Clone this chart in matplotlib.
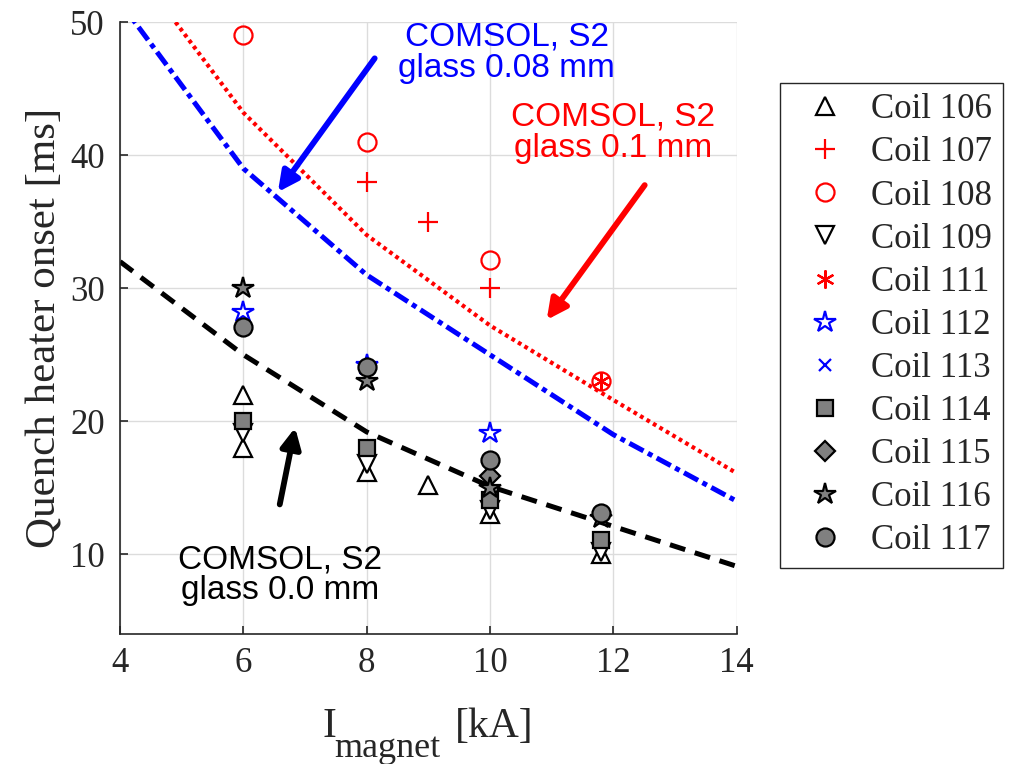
import matplotlib
matplotlib.use("Agg")
import matplotlib.pyplot as plt

# measured onset times per coil (x = magnet current kA, y = ms)
coil106_x = [6, 6, 8, 9, 10, 11.8]
coil106_y = [22, 18, 16.2, 15.2, 13, 10]
coil107_x = [8, 9, 10]
coil107_y = [38, 35, 30]
coil108_x = [6, 8, 10, 11.8]
coil108_y = [49, 41, 32.1, 23]
coil109_x = [6, 8, 10, 11.8]
coil109_y = [19.1, 16.8, 13.3, 10.2]
coil111_x = [11.8]
coil111_y = [23]
coil112_x = [6, 8, 10]
coil112_y = [28.2, 24.2, 19.1]
coil113_x = []
coil113_y = []
coil114_x = [6, 8, 10, 11.8]
coil114_y = [20, 18, 14.1, 11.1]
coil115_x = [10]
coil115_y = [15.9]
coil116_x = [6, 8, 10, 11.8]
coil116_y = [30, 23, 15, 12.7]
coil117_x = [6, 8, 10, 11.8]
coil117_y = [27.1, 24.1, 17.1, 13.1]

# COMSOL simulations
sim_x = [4, 6, 8, 10, 12, 14]
glass00_y = [32, 25, 19.2, 15.1, 12.1, 9.1]
glass008_y = [51.5, 39, 31, 25, 19, 14]
sim01_x = [4.9, 6, 8, 10, 12, 14]
glass01_y = [50, 43.2, 34, 27.2, 21.6, 16.1]

serif = "Liberation Serif"
sans = "Liberation Sans"
gray = "#808080"
dark = "#262626"

fig = plt.figure(figsize=(10.09, 7.64), dpi=100)
ax = fig.add_axes([0.119, 0.170, 0.611, 0.801])

ax.plot(sim_x, glass00_y, color="black", lw=3.6, ls=(0, (3.2, 2.0)), zorder=2)
ax.plot(sim_x, glass008_y, color="blue", lw=3.6, ls=(0, (3.2, 1.0, 1.0, 1.0)), zorder=2)
ax.plot(sim01_x, glass01_y, color="red", lw=3.0, ls=(0, (0.9, 0.9)), zorder=2)

ms = 13
mew = 1.6
series = [
    (coil106_x, coil106_y, dict(marker="^", mfc="white", mec="black"), "Coil 106"),
    (coil107_x, coil107_y, dict(marker="+", mfc="none", mec="red", ms=15), "Coil 107"),
    (coil108_x, coil108_y, dict(marker="o", mfc="none", mec="red"), "Coil 108"),
    (coil109_x, coil109_y, dict(marker="v", mfc="white", mec="black"), "Coil 109"),
    (coil111_x, coil111_y, dict(marker=(6, 2, 0), mfc="none", mec="red"), "Coil 111"),
    (coil112_x, coil112_y, dict(marker="*", mfc="white", mec="blue", ms=16), "Coil 112"),
    (coil113_x, coil113_y, dict(marker="x", mfc="none", mec="blue", ms=9), "Coil 113"),
    (coil114_x, coil114_y, dict(marker="s", mfc=gray, mec="black", ms=11), "Coil 114"),
    (coil115_x, coil115_y, dict(marker="D", mfc=gray, mec="black", ms=10), "Coil 115"),
    (coil116_x, coil116_y, dict(marker="*", mfc=gray, mec="black", ms=16), "Coil 116"),
    (coil117_x, coil117_y, dict(marker="o", mfc=gray, mec="black"), "Coil 117"),
]
handles = []
for xs, ys, style, label in series:
    kw = dict(ms=ms, mew=mew)
    kw.update(style)
    h, = ax.plot(xs, ys, ls="none", label=label, zorder=3, **kw)
    handles.append(h)

ax.set_xlim(4, 14)
ax.set_ylim(4, 50)
ax.set_xticks([4, 6, 8, 10, 12, 14])
ax.set_yticks([10, 20, 30, 40, 50])
ax.grid(True, color="#dcdcdc", lw=1)
ax.set_axisbelow(True)
for s in ["top", "right"]:
    ax.spines[s].set_visible(False)
for s in ["left", "bottom"]:
    ax.spines[s].set_color(dark)
    ax.spines[s].set_linewidth(1.2)
ax.tick_params(direction="in", length=6, width=1.2, color=dark,
               labelsize=25, labelcolor=dark)
ax.tick_params(axis="x", pad=9)
ax.tick_params(axis="y", pad=11)
for lab in ax.get_xticklabels() + ax.get_yticklabels():
    lab.set_fontfamily(serif)

ax.set_ylabel("Quench heater onset [ms]", fontsize=31, family=serif,
              color=dark, labelpad=4)

# x label with a large subscript
fig.text(322 / 1009, 1 - 737 / 764, "I", fontsize=30, family=serif,
         color=dark, va="baseline")
fig.text(334 / 1009, 1 - 757 / 764, "magnet", fontsize=26, family=serif,
         color=dark, va="baseline")
fig.text(455 / 1009, 1 - 737 / 764, "[kA]", fontsize=30, family=serif,
         color=dark, va="baseline")

# annotations
ax.text(10.27, 47.7, "COMSOL, S2\nglass 0.08 mm", color="blue", fontsize=24,
        family=sans, ha="center", va="center", linespacing=1.0)
ax.text(12.0, 41.7, "COMSOL, S2\nglass 0.1 mm", color="red", fontsize=24,
        family=sans, ha="center", va="center", linespacing=1.0)
ax.text(6.59, 8.42, "COMSOL, S2\nglass 0.0 mm", color="black", fontsize=24,
        family=sans, ha="center", va="center", linespacing=1.0)

arrows = [((8.13, 47.28), (6.56, 37.23), "blue"),
          ((12.51, 37.75), (10.92, 27.62), "red"),
          ((6.59, 13.75), (6.84, 19.52), "black")]
for start, end, c in arrows:
    ax.annotate("", xy=end, xytext=start,
                arrowprops=dict(arrowstyle="-|>", color=c, lw=4.2,
                                mutation_scale=30, shrinkA=0, shrinkB=0))

leg = fig.legend(handles=handles, loc="upper left",
                 bbox_to_anchor=(780 / 1009, 1 - 83 / 764),
                 prop={"family": serif, "size": 25}, frameon=True,
                 fancybox=False, edgecolor=dark, framealpha=1,
                 labelspacing=0.29, handlelength=2.0, handletextpad=0.33,
                 borderpad=0.3, borderaxespad=0, numpoints=1)
leg.get_frame().set_linewidth(1.0)
for t in leg.get_texts():
    t.set_color(dark)

fig.savefig("out.png", dpi=100)
